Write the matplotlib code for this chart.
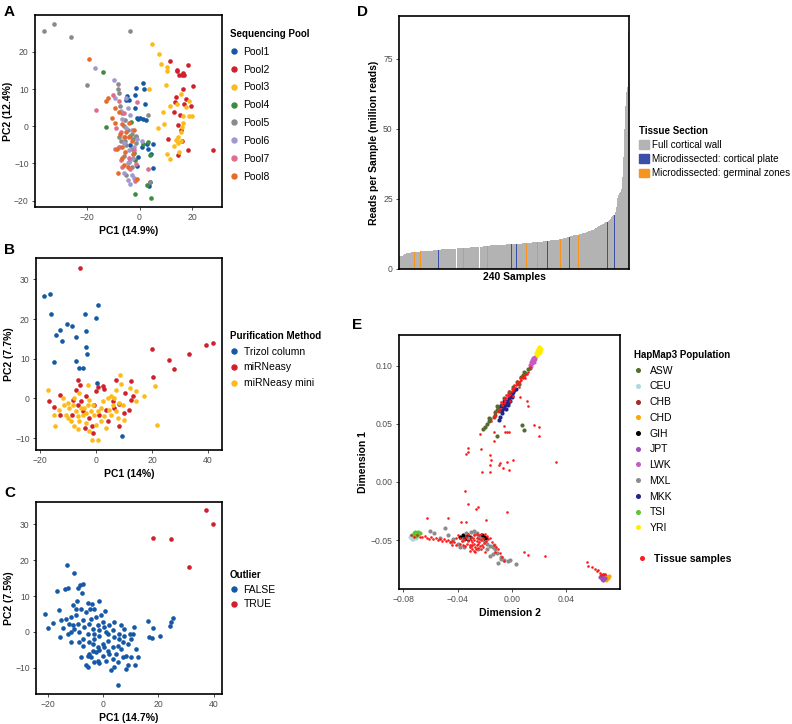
import matplotlib
matplotlib.use("Agg")
import matplotlib.pyplot as plt
from matplotlib.lines import Line2D
from matplotlib.patches import Patch

plt.rcParams['font.family'] = ['Liberation Sans', 'DejaVu Sans']

# ---------------- panel A: sequencing pools (PC1, PC2)
pool1 = [(1.5, 11.7), (-1.3, 10.4), (1.7, 9.9), (-1.7, 8.3), (-4.6, 8.2), (-3.9, 7.0), (-5.1, 7.0),
         (2.1, 6.0), (-1.9, 4.8), (-1.0, 2.3), (0.3, 2.1), (1.5, 1.9), (2.4, 1.8), (-0.4, 2.0),
         (5.1, -4.9), (3.4, -6.0), (2.8, -4.8), (4.3, -7.5), (5.1, -11.2), (3.7, -16.0), (3.9, -15.0),
         (-0.6, -8.3), (-1.0, -10.7), (-3.5, -5.0), (0.8, -5.5)]
pool2 = [(11.5, 17.6), (14.4, 15.1), (15.1, 13.9), (16.4, 14.4), (17.1, 13.9), (18.6, 16.4), (16.1, 13.7),
         (20.5, 10.8), (16.4, 9.9), (13.8, 7.9), (13.5, 6.4), (17.6, 7.4), (17.1, 6.1), (19.6, 5.5),
         (13.3, 3.7), (15.4, 3.1), (14.8, 0.3), (15.7, -1.1), (11.0, -3.3), (16.1, -4.0), (18.3, -6.5),
         (14.5, -7.8), (28.1, -6.3), (14.2, 14.8)]
pool3 = [(4.6, 22.0), (7.4, 19.5), (8.1, 16.8), (10.3, 15.8), (10.3, 14.9), (3.7, 9.9), (10.0, 11.2),
         (15.7, 8.6), (11.6, 5.4), (14.4, 6.0), (19.0, 6.8), (9.1, 3.7), (9.3, 0.5), (7.2, -0.6),
         (16.7, 2.8), (18.9, 2.7), (19.9, 2.8), (16.4, 1.0), (16.1, -0.2), (15.7, -1.5), (14.8, -2.9),
         (13.8, -3.8), (14.5, -4.4), (13.3, -5.4), (10.5, -7.5), (11.6, -8.7), (15.8, -4.0), (15.2, -6.9),
         (17.7, 5.1)]
pool4 = [(-13.9, 14.6), (-12.8, -0.2), (-3.2, 1.2), (-2.0, -7.1), (3.4, -4.2), (4.0, -7.6), (-1.7, -9.1),
         (2.7, -15.9), (-1.7, -18.1), (4.5, -19.4), (-1.5, -3.0), (-3.5, -2.5), (1.4, -4.7)]
pool5 = [(-36.3, 25.5), (-32.6, 27.4), (-26.2, 24.1), (-3.6, 25.5), (-20.1, 11.0), (-8.3, 11.4), (-8.3, 10.1),
         (3.4, 2.9), (4.0, -15.0), (-8.0, 9.0), (-7.5, 5.5), (-6.5, 3.5), (-5.5, 1.8), (-6.0, 0.0),
         (-4.5, -1.0), (-3.0, -2.0), (-1.5, -2.5), (-2.5, -3.5), (-5.0, -5.0), (-3.0, -6.0), (-1.5, -4.5),
         (-6.0, -8.0), (-4.0, -9.5), (-3.0, -11.0), (-5.0, -13.0), (-7.0, -4.0), (-8.0, -3.0), (-5.5, -4.0)]
pool6 = [(-17.0, 15.7), (-9.7, 12.5), (-9.5, 7.5), (-5.0, 7.5), (-4.5, 5.0), (-3.5, 3.0), (-6.5, 2.0),
         (-5.0, -0.5), (-3.0, -1.0), (-1.0, -3.5), (-2.0, -5.5), (-4.0, -6.5), (-6.0, -4.5), (-2.5, -8.5),
         (-3.5, -9.0), (-4.5, -10.0), (-3.0, -13.0), (-4.5, -14.5), (-2.0, -14.0), (-3.5, -15.5),
         (-6.0, -12.5), (1.0, -4.0), (-8.0, -5.5), (-7.0, 4.0)]
pool7 = [(-16.6, 4.3), (-10.2, 8.5), (-7.9, 6.7), (-0.8, 6.6), (-9.0, -0.5), (-7.0, -1.5), (-5.5, -3.0),
         (-8.0, -5.5), (-9.5, -6.0), (-4.0, -8.5), (-1.4, -10.2), (3.4, -11.4), (-1.9, -14.8), (-6.5, -11.0),
         (-3.5, -11.5), (-6.0, 3.5), (-2.0, -6.5), (-7.0, -9.0)]
pool8 = [(-19.1, 18.0), (-11.9, 7.6), (-12.8, 6.9), (-8.0, 3.9), (-10.5, 2.1), (-9.3, 0.9), (-6.1, -2.9),
         (-8.3, -12.6), (-6.1, -10.5), (-1.1, -14.2), (-5.0, -1.5), (-6.5, 0.5), (-4.0, -3.0), (-3.0, -4.0),
         (-6.5, -5.5), (-8.5, -6.0), (-5.5, -7.0), (-2.5, -7.5), (-4.0, 1.0), (-7.5, -2.0), (-2.0, -1.0),
         (-9.5, 5.0), (-6.5, -8.5), (-4.5, -11.0)]
pool_labels = ["Pool1", "Pool2", "Pool3", "Pool4", "Pool5", "Pool6", "Pool7", "Pool8"]
pool_colors = ["#1458A6", "#D0202E", "#FDBB1A", "#3D8B3D", "#8A8A8A", "#9E9AD0", "#DE6E8E", "#E56B2A"]

# ---------------- panel B: purification method
trizol = [(-18.6, 25.8), (-16.5, 26.2), (-16.2, 21.2), (-14.2, 16.0), (-12.7, 17.2), (-12.1, 14.5),
          (-10.4, 18.7), (-8.5, 18.2), (-7.1, 15.4), (-3.8, 21.4), (-3.7, 17.0), (-3.6, 13.0), (-3.1, 11.3),
          (0.0, 20.4), (0.7, 23.5), (-14.8, 9.2), (-7.0, 9.4), (-6.2, 7.7), (-4.8, 7.7), (0.4, 3.8), (9.4, -9.5)]
mirneasy = [(-5.8, 33.0), (19.9, 12.4), (26.1, 9.7), (27.7, 7.3), (33.2, 11.3), (39.4, 13.4), (41.8, 13.9),
            (20.5, 5.5), (-6.4, 4.7), (-5.8, 3.5), (-12.9, 0.9), (-16.7, -0.7), (-14.9, -2.2), (-12.7, -4.1),
            (7.1, 4.7), (12.5, 4.5), (10.5, 1.4), (13.1, 0.5), (12.5, -0.3), (10.1, -3.7), (11.7, -2.8),
            (8.1, -1.3), (0.6, 3.0), (2.4, 3.2), (3.0, 2.4), (0.0, 1.8), (-3.6, 0.5), (-6.5, -1.6),
            (-8.7, -4.1), (-4.8, -3.2), (-1.4, -7.0), (-3.8, -7.4), (-1.2, -8.7), (8.3, -7.0), (4.2, -5.8),
            (6.5, -2.4), (1.2, -4.1), (-2.4, -4.9), (3.6, -2.8), (-5.4, -0.7), (-8.3, -0.3), (6.2, -0.6),
            (-0.6, -1.6), (-7.1, 2.2)]
mirneasy_mini = [(-17.0, 2.0), (-14.9, -4.3), (-14.6, -7.0), (-2.7, 3.5), (8.7, 5.8), (8.9, 3.6), (14.3, 1.8),
                 (17.3, 0.5), (21.2, 3.1), (21.8, -6.6), (-1.5, -10.6), (0.7, -10.4), (10.1, -5.5),
                 (-11.9, 0.1), (-10.1, -1.2), (-9.5, -2.4), (-8.3, -1.6), (-7.1, -3.2), (-6.5, -4.5),
                 (-6.0, -5.8), (-7.7, -7.0), (-8.9, -5.8), (-10.1, -4.9), (-4.8, -4.1), (-4.2, -2.4),
                 (-3.0, -1.6), (-2.4, -0.3), (-1.8, -3.2), (-3.6, -6.2), (-0.6, -4.1), (0.6, -3.2),
                 (1.8, -2.4), (2.4, -0.7), (4.2, 0.1), (5.4, 0.5), (6.5, 0.1), (6.0, -1.6), (7.1, -3.2),
                 (5.4, -4.1), (3.0, -4.5), (1.8, -5.8), (0.0, -6.6), (3.6, -7.4), (-2.4, -8.3), (-6.5, -7.6),
                 (-11.3, -1.6), (-13.1, -2.8), (-10.7, -4.1), (8.3, -1.1), (9.5, -1.6), (7.1, 2.2),
                 (7.7, -4.9), (4.8, -2.8), (-1.2, -1.6), (-5.4, -2.4), (-3.6, -3.6), (-7.7, 0.1),
                 (-6.0, 1.4), (12.3, 2.6), (14.3, -0.6)]
method_labels = ["Trizol column", "miRNeasy", "miRNeasy mini"]
method_colors = ["#1458A6", "#D0202E", "#FDBB1A"]

# ---------------- panel C: outliers
outlier_false = [(-13.0, 18.6), (-10.6, 16.4), (-16.7, 11.4), (-13.6, 11.9), (-12.8, 12.3), (-9.2, 12.2),
                 (-8.2, 13.0), (-7.3, 13.4), (-7.6, 10.9), (-9.5, 8.5), (-1.3, 8.5), (0.7, 5.9), (-4.1, 7.9),
                 (-5.5, 8.1), (-21.0, 4.9), (-19.8, 1.1), (-18.2, 2.6), (-15.8, 6.2), (-15.2, 3.2),
                 (-15.5, -1.3), (-11.0, 7.4), (-11.6, 4.1), (-12.2, 2.3), (-11.6, -2.8), (-12.5, -0.5),
                 (-8.8, 0.1), (-7.3, 3.2), (-9.8, 4.6), (-6.1, 5.5), (-3.1, 6.5), (-4.3, 3.7), (-2.5, 4.1),
                 (-0.7, 4.6), (-0.1, 2.7), (-1.9, 1.8), (-3.7, 0.9), (-5.5, -0.5), (-7.3, -1.9), (-8.6, -2.8),
                 (-4.9, -2.8), (-3.1, -1.9), (-1.3, -1.0), (1.1, 0.0), (2.3, 1.8), (4.1, 2.7), (6.5, 1.8),
                 (7.7, 0.9), (5.9, -0.5), (4.1, -1.4), (1.7, -2.4), (-0.1, -3.3), (-1.9, -4.2), (-3.7, -5.2),
                 (-4.9, -6.1), (-7.3, -3.8), (-5.5, -6.6), (-8.0, -7.0), (-6.1, -9.3), (-5.5, -9.8),
                 (-1.9, -8.0), (-0.1, -6.6), (1.7, -5.2), (3.5, -4.2), (5.3, -3.8), (7.1, -2.8), (8.9, -3.3),
                 (10.1, -1.9), (10.7, -0.5), (11.3, 1.3), (9.9, -0.5), (6.5, -4.7), (4.7, -6.1), (3.5, -7.5),
                 (5.3, -8.4), (4.1, -9.8), (2.9, -10.7), (7.1, -7.0), (8.3, -6.6), (8.9, -9.3), (8.3, -10.3),
                 (11.9, -4.7), (12.8, -7.0), (11.7, -9.3), (10.1, -7.0), (5.3, -14.7), (16.4, 3.1),
                 (18.0, 1.1), (16.8, -1.4), (17.7, -1.6), (20.6, -1.1), (24.3, 1.6), (24.5, 2.7), (25.2, 3.9),
                 (-9.2, 2.3), (-10.4, 0.9), (-11.6, 0.0), (-11.0, 1.8), (-6.7, 1.3), (-4.9, 2.3), (-3.1, -0.5),
                 (-1.3, 0.4), (0.5, 1.3), (1.7, -0.5), (-3.7, -3.3), (-1.3, -5.0), (0.5, -4.2), (-2.5, -5.5),
                 (-4.3, -6.9), (-3.1, -8.3), (-1.3, -8.8), (1.1, -8.0), (2.3, -6.1), (5.9, -2.0), (7.7, -1.0),
                 (3.5, 0.4), (-13.4, 3.7), (-14.6, 1.1), (-9.8, 6.5), (-8.0, 6.5), (-4.6, 6.5)]
outlier_true = [(18.0, 26.1), (24.6, 25.9), (37.2, 33.9), (39.9, 30.1), (31.2, 18.0)]

# ---------------- panel D: reads per sample, sorted
reads = [4.5, 4.6, 4.7, 4.8, 4.9,
         5.3, 5.5, 5.6, 5.7, 5.7, 5.8, 5.8, 5.8, 5.9, 5.9, 5.9,
         6.0, 6.0, 6.1, 6.1, 6.2, 6.2, 6.3, 6.3, 6.3, 6.4, 6.4, 6.4, 6.5, 6.5, 6.5, 6.5, 6.6, 6.6, 6.6,
         6.7, 6.7, 6.7, 6.8, 6.8, 6.8,
         6.9, 6.9, 6.9, 7.0, 7.0, 7.0, 7.0, 7.1, 7.1, 7.1, 7.1, 7.2, 7.2, 7.2, 7.2, 7.3, 7.3, 7.3, 7.3,
         7.4, 7.4, 7.4, 7.4, 7.4, 7.5, 7.5,
         7.5, 7.5, 7.6, 7.6, 7.6, 7.6, 7.6, 7.7, 7.7, 7.7, 7.7, 7.7, 7.8, 7.8, 7.8, 7.8, 7.8, 7.9, 7.9,
         8.0, 8.0, 8.1, 8.1, 8.2, 8.2,
         8.3, 8.3, 8.3, 8.4, 8.4, 8.4, 8.4, 8.5, 8.5, 8.5, 8.5, 8.6, 8.6, 8.6, 8.6, 8.6, 8.7, 8.7, 8.7,
         8.7, 8.8, 8.8, 8.8, 8.8, 8.9,
         8.9, 8.9, 8.9, 9.0, 9.0, 9.0, 9.0, 9.1, 9.1, 9.1, 9.1, 9.2, 9.2, 9.2, 9.2, 9.3,
         9.3, 9.3, 9.3, 9.4, 9.4, 9.4, 9.5, 9.5, 9.5, 9.6, 9.6, 9.7, 9.7, 9.7, 9.8, 9.8, 9.8, 9.9, 9.9,
         9.9, 10.0,
         10.0, 10.0, 10.1, 10.1, 10.2, 10.2, 10.2, 10.3, 10.3, 10.4, 10.4, 10.5, 10.5, 10.6,
         10.6, 10.7, 10.8, 10.9, 11.0, 11.1, 11.2, 11.3, 11.4, 11.5, 11.6, 11.7, 11.8, 11.9, 12.0, 12.0,
         12.1, 12.2, 12.3,
         12.3, 12.4, 12.5, 12.6, 12.7, 12.8, 12.9, 13.0, 13.2, 13.3, 13.4, 13.5, 13.6, 13.8, 13.9,
         14.0, 14.2, 14.4, 14.6, 14.8, 15.0, 15.2, 15.4, 15.6, 15.8, 16.0, 16.2, 16.4, 16.6, 16.8,
         16.9, 17.2, 17.6, 18.0, 18.4, 18.8, 19.1, 19.4, 20.5,
         22.0, 24.0, 25.5, 26.5, 27.0, 27.5, 28.5, 33.0, 40.0, 50.0, 58.0, 63.0, 65.0, 85.0]
cortical_plate_idx = [41, 84, 117, 122, 154, 177, 217, 224]
germinal_zone_idx = [16, 22, 67, 92, 133, 144, 168, 187]
tissue_labels = ["Full cortical wall", "Microdissected: cortical plate", "Microdissected: germinal zones"]
tissue_colors = ["#B3B3B3", "#3B4FA8", "#F7941D"]

# ---------------- panel E: MDS with HapMap3
asw = [(-0.0210, 0.0455), (-0.0195, 0.0470), (-0.0180, 0.0500), (-0.0170, 0.0520), (-0.0169, 0.0549),
       (-0.0160, 0.0540), (-0.0120, 0.0580), (-0.0110, 0.0620), (-0.0108, 0.0649), (-0.0100, 0.0640),
       (-0.0125, 0.0600), (-0.0095, 0.0610), (-0.0080, 0.0660), (-0.0060, 0.0720), (-0.0020, 0.0770),
       (0.0010, 0.0820), (0.0040, 0.0860), (0.0070, 0.0900), (0.0085, 0.0920), (0.0088, 0.0949),
       (0.0100, 0.0940), (0.0120, 0.0970), (0.0137, 0.0983), (-0.0108, 0.0397), (0.0076, 0.0486),
       (0.0088, 0.0443), (0.0050, 0.0840), (-0.0130, 0.0560)]
ceu = [(-0.0740, -0.0470), (-0.0730, -0.0480), (-0.0720, -0.0485), (-0.0745, -0.0460), (-0.0735, -0.0490),
       (-0.0710, -0.0480), (-0.0750, -0.0475), (-0.0725, -0.0495)]
chb = [(0.0670, -0.0810), (0.0680, -0.0815), (0.0675, -0.0800), (0.0665, -0.0820), (0.0685, -0.0805),
       (0.0660, -0.0805)]
chd = [(0.0690, -0.0820), (0.0700, -0.0830), (0.0705, -0.0815), (0.0695, -0.0840), (0.0710, -0.0825),
       (0.0685, -0.0835), (0.0715, -0.0810)]
gih = [(-0.0380, -0.0470), (-0.0360, -0.0460), (-0.0340, -0.0480), (-0.0330, -0.0455), (-0.0310, -0.0470),
       (-0.0240, -0.0470), (-0.0220, -0.0460), (-0.0205, -0.0475), (-0.0190, -0.0480), (-0.0350, -0.0490),
       (-0.0215, -0.0490), (-0.0320, -0.0490)]
jpt = [(0.0660, -0.0820), (0.0670, -0.0830), (0.0680, -0.0825), (0.0675, -0.0840), (0.0665, -0.0835),
       (0.0690, -0.0830), (0.0655, -0.0815)]
lwk = [(0.0135, 0.1010), (0.0145, 0.1030), (0.0155, 0.1050), (0.0165, 0.1070), (0.0170, 0.1060),
       (0.0160, 0.1040), (0.0150, 0.1020), (0.0140, 0.1000), (0.0175, 0.1075), (0.0160, 0.1065),
       (0.0150, 0.1045), (0.0165, 0.1030)]
mxl = [(-0.0600, -0.0420), (-0.0575, -0.0440), (-0.0490, -0.0395), (-0.0470, -0.0460), (-0.0430, -0.0490),
       (-0.0400, -0.0530), (-0.0385, -0.0560), (-0.0360, -0.0500), (-0.0340, -0.0440), (-0.0320, -0.0480),
       (-0.0300, -0.0430), (-0.0280, -0.0420), (-0.0260, -0.0440), (-0.0240, -0.0470), (-0.0220, -0.0490),
       (-0.0200, -0.0520), (-0.0180, -0.0530), (-0.0160, -0.0550), (-0.0140, -0.0560), (-0.0120, -0.0580),
       (-0.0110, -0.0610), (-0.0140, -0.0620), (-0.0160, -0.0640), (-0.0080, -0.0650), (-0.0060, -0.0670),
       (-0.0030, -0.0680), (-0.0010, -0.0670), (0.0030, -0.0710), (-0.0100, -0.0700), (-0.0080, -0.0660),
       (-0.0250, -0.0580), (-0.0300, -0.0550), (-0.0350, -0.0560), (-0.0450, -0.0520), (-0.0530, -0.0480),
       (-0.0180, -0.0580), (-0.0130, -0.0540), (-0.0270, -0.0450)]
mkk = [(-0.0095, 0.0530), (-0.0085, 0.0560), (-0.0075, 0.0590), (-0.0070, 0.0620), (-0.0060, 0.0640),
       (-0.0050, 0.0660), (-0.0045, 0.0690), (-0.0035, 0.0700), (-0.0030, 0.0680), (-0.0020, 0.0720),
       (-0.0010, 0.0740), (0.0000, 0.0760), (0.0010, 0.0770), (0.0020, 0.0790), (-0.0060, 0.0700),
       (-0.0080, 0.0650), (-0.0040, 0.0630), (-0.0015, 0.0700), (0.0005, 0.0730), (-0.0055, 0.0680),
       (-0.0025, 0.0660), (0.0030, 0.0800)]
tsi = [(-0.0720, -0.0440), (-0.0710, -0.0450), (-0.0700, -0.0440), (-0.0690, -0.0445), (-0.0715, -0.0430),
       (-0.0700, -0.0455), (-0.0680, -0.0440), (-0.0725, -0.0455), (-0.0695, -0.0430), (-0.0705, -0.0465)]
yri = [(0.0185, 0.1095), (0.0190, 0.1110), (0.0195, 0.1125), (0.0200, 0.1140), (0.0205, 0.1155),
       (0.0210, 0.1130), (0.0200, 0.1110), (0.0190, 0.1130), (0.0210, 0.1150), (0.0195, 0.1145),
       (0.0205, 0.1120), (0.0180, 0.1105), (0.0200, 0.1160), (0.0215, 0.1140)]
tissue_samples = [
    # upper arm
    (-0.0150, 0.0520), (-0.0130, 0.0560), (-0.0120, 0.0590), (-0.0100, 0.0610), (-0.0090, 0.0630),
    (-0.0070, 0.0660), (-0.0060, 0.0680), (-0.0050, 0.0700), (-0.0040, 0.0720), (-0.0030, 0.0740),
    (-0.0020, 0.0750), (-0.0010, 0.0760), (0.0000, 0.0780), (0.0010, 0.0790), (0.0020, 0.0810),
    (0.0030, 0.0830), (0.0040, 0.0840), (0.0050, 0.0860), (0.0060, 0.0870), (0.0070, 0.0880),
    (0.0080, 0.0890), (0.0090, 0.0900), (0.0080, 0.0910), (0.0060, 0.0890), (0.0040, 0.0870),
    (0.0020, 0.0830), (0.0000, 0.0800), (-0.0020, 0.0780), (-0.0040, 0.0750), (-0.0060, 0.0710),
    (-0.0080, 0.0690), (-0.0030, 0.0760), (0.0010, 0.0740), (-0.0010, 0.0700), (0.0050, 0.0820),
    (0.0100, 0.0920), (0.0110, 0.0930), (0.0120, 0.0950), (0.0135, 0.0990), (0.0100, 0.0890),
    # scattered
    (0.0059, 0.0734), (0.0113, 0.0700), (0.0120, 0.0649), (-0.0120, 0.0569), (-0.0231, 0.0409),
    (-0.0133, 0.0429), (-0.0054, 0.0483), (-0.0052, 0.0431), (-0.0034, 0.0426), (-0.0017, 0.0426),
    (0.0162, 0.0486), (0.0204, 0.0474), (0.0201, 0.0391), (-0.0133, 0.0349), (-0.0324, 0.0294),
    (-0.0334, 0.0243), (-0.0324, 0.0254), (-0.0226, 0.0283), (-0.0162, 0.0229), (-0.0152, 0.0191),
    (-0.0164, 0.0146), (-0.0096, 0.0143), (-0.0083, 0.0163), (-0.0034, 0.0169), (0.0010, 0.0186),
    (-0.0064, 0.0120), (-0.0020, 0.0103), (-0.0218, 0.0086), (-0.0162, 0.0086), (0.0326, 0.0174),
    (-0.0346, -0.0080), (-0.0324, -0.0186), (-0.0267, -0.0229), (-0.0248, -0.0217), (-0.0034, -0.0257),
    (-0.0623, -0.0309), (-0.0471, -0.0314), (-0.0373, -0.0346), (-0.0341, -0.0343), (-0.0187, -0.0331),
    (0.0088, -0.0600), (0.0120, -0.0626), (0.0248, -0.0640), (0.0555, -0.0686), (0.0562, -0.0723),
    (0.0591, -0.0731), (0.0616, -0.0751),
    # lower arm
    (-0.0745, -0.0455), (-0.0720, -0.0470), (-0.0700, -0.0460), (-0.0680, -0.0470), (-0.0660, -0.0475),
    (-0.0640, -0.0465), (-0.0625, -0.0480), (-0.0610, -0.0490), (-0.0595, -0.0475), (-0.0580, -0.0495),
    (-0.0560, -0.0485), (-0.0545, -0.0500), (-0.0530, -0.0490), (-0.0515, -0.0505), (-0.0500, -0.0495),
    (-0.0485, -0.0510), (-0.0470, -0.0500), (-0.0455, -0.0515), (-0.0440, -0.0505), (-0.0425, -0.0520),
    (-0.0410, -0.0480), (-0.0395, -0.0460), (-0.0380, -0.0530), (-0.0365, -0.0510), (-0.0350, -0.0490),
    (-0.0335, -0.0470), (-0.0320, -0.0450), (-0.0305, -0.0540), (-0.0290, -0.0520), (-0.0275, -0.0500),
    (-0.0260, -0.0480), (-0.0245, -0.0460), (-0.0300, -0.0500), (-0.0285, -0.0480), (-0.0270, -0.0560),
    (-0.0255, -0.0540), (-0.0240, -0.0520), (-0.0225, -0.0500), (-0.0210, -0.0480), (-0.0310, -0.0560),
    (-0.0295, -0.0575), (-0.0280, -0.0590), (-0.0265, -0.0580), (-0.0250, -0.0570), (-0.0235, -0.0555),
    (-0.0220, -0.0540), (-0.0205, -0.0525), (-0.0190, -0.0510), (-0.0175, -0.0495), (-0.0160, -0.0480),
    (-0.0145, -0.0520), (-0.0130, -0.0545), (-0.0115, -0.0560), (-0.0100, -0.0575), (-0.0120, -0.0600),
    (-0.0085, -0.0610), (-0.0070, -0.0650), (-0.0060, -0.0680), (-0.0330, -0.0530), (-0.0345, -0.0550),
    (-0.0360, -0.0540), (-0.0320, -0.0510), (-0.0280, -0.0530), (-0.0260, -0.0510), (-0.0240, -0.0490),
    (-0.0300, -0.0470), (-0.0280, -0.0460), (-0.0260, -0.0450), (-0.0230, -0.0450), (-0.0195, -0.0450),
    (-0.0180, -0.0465), (-0.0410, -0.0540), (-0.0440, -0.0545), (-0.0380, -0.0480), (-0.0290, -0.0545),
    (-0.0250, -0.0530), (-0.0230, -0.0580), (-0.0210, -0.0560), (-0.0200, -0.0600), (-0.0270, -0.0600),
    (-0.0310, -0.0590),
    # east asian cluster
    (0.0630, -0.0770), (0.0650, -0.0780), (0.0670, -0.0790), (0.0660, -0.0800), (0.0690, -0.0790),
    (0.0640, -0.0760)]
pop_labels = ["ASW", "CEU", "CHB", "CHD", "GIH", "JPT", "LWK", "MXL", "MKK", "TSI", "YRI"]
pop_colors = ["#556B2F", "#ADD8E6", "#A52A2A", "#FFA500", "#000000", "#9B4FB8",
              "#C65BC0", "#8C8C8C", "#23238E", "#5DC535", "#FFEE00"]

W, H = 792, 724
fig = plt.figure(figsize=(W / 100, H / 100), dpi=100)


def box(l, t, r, b):
    return [l / W, 1 - b / H, (r - l) / W, (b - t) / H]


def style(ax):
    for s in ax.spines.values():
        s.set_linewidth(1.2)
        s.set_color("black")
    ax.tick_params(length=2.5, width=0.6, color="#333333", labelsize=6.2,
                   labelcolor="#4D4D4D", pad=2)


def legend_at(x, y, handles, title, **kw):
    opts = dict(loc="upper left", bbox_to_anchor=(x / W, 1 - y / H), frameon=False,
                fontsize=7.5, title_fontproperties={"weight": "bold", "size": 7},
                alignment="left", borderpad=0, borderaxespad=0, handlelength=0.8,
                handletextpad=0.5, labelspacing=0.75)
    opts.update(kw)
    return fig.legend(handles=handles, title=title, **opts)


def dots(colors, labels, ms=3.6):
    return [Line2D([], [], marker="o", ls="", color=c, markersize=ms, label=l)
            for c, l in zip(colors, labels)]


def xs(pts):
    return [p[0] for p in pts]


def ys(pts):
    return [p[1] for p in pts]


# ---- A
axA = fig.add_axes(box(35, 15, 222, 207))
for pts, c in zip([pool1, pool2, pool3, pool4, pool5, pool6, pool7, pool8], pool_colors):
    axA.scatter(xs(pts), ys(pts), s=11, color=c, linewidths=0)
axA.set_xlim(-39.8, 31.4)
axA.set_ylim(-21.7, 29.9)
axA.set_xticks([-20, 0, 20])
axA.set_yticks([-20, -10, 0, 10, 20])
axA.set_xlabel("PC1 (14.9%)", fontsize=7.5, fontweight="bold", labelpad=3)
axA.set_ylabel("PC2 (12.4%)", fontsize=7.5, fontweight="bold", labelpad=1)
style(axA)
legend_at(230, 29, dots(pool_colors, pool_labels), "Sequencing Pool")

# ---- B
axB = fig.add_axes(box(36, 258, 222, 450))
for pts, c in zip([trizol, mirneasy, mirneasy_mini], method_colors):
    axB.scatter(xs(pts), ys(pts), s=11, color=c, linewidths=0)
axB.set_xlim(-21.4, 45)
axB.set_ylim(-13, 35.4)
axB.set_xticks([-20, 0, 20, 40])
axB.set_yticks([-10, 0, 10, 20, 30])
axB.set_xlabel("PC1 (14%)", fontsize=7.5, fontweight="bold", labelpad=3)
axB.set_ylabel("PC2 (7.7%)", fontsize=7.5, fontweight="bold", labelpad=1)
style(axB)
legend_at(230, 331, dots(method_colors, method_labels), "Purification Method", labelspacing=0.55)

# ---- C
axC = fig.add_axes(box(36, 502, 222, 694))
axC.scatter(xs(outlier_false), ys(outlier_false), s=11, color=method_colors[0], linewidths=0)
axC.scatter(xs(outlier_true), ys(outlier_true), s=11, color=method_colors[1], linewidths=0)
axC.set_xlim(-24.2, 43)
axC.set_ylim(-17.3, 36.2)
axC.set_xticks([-20, 0, 20, 40])
axC.set_yticks([-10, 0, 10, 20, 30])
axC.set_xlabel("PC1 (14.7%)", fontsize=7.5, fontweight="bold", labelpad=3)
axC.set_ylabel("PC2 (7.5%)", fontsize=7.5, fontweight="bold", labelpad=1)
style(axC)
legend_at(230, 570, dots(method_colors[:2], ["FALSE", "TRUE"]), "Outlier", labelspacing=0.45)

# ---- D
axD = fig.add_axes(box(399, 16, 629, 269))
bar_colors = []
for i in range(len(reads)):
    if i in cortical_plate_idx:
        bar_colors.append(tissue_colors[1])
    elif i in germinal_zone_idx:
        bar_colors.append(tissue_colors[2])
    else:
        bar_colors.append(tissue_colors[0])
axD.bar(range(len(reads)), reads, width=1.0, color=bar_colors, linewidth=0)
axD.set_xlim(-0.5, len(reads) - 0.5)
axD.set_ylim(0, 90.3)
axD.set_xticks([])
axD.set_yticks([0, 25, 50, 75])
axD.set_xlabel("240 Samples", fontsize=7.5, fontweight="bold", labelpad=2)
axD.set_ylabel("Reads per Sample (million reads)", fontsize=7.5, fontweight="bold", labelpad=3)
style(axD)
legend_at(639, 126, [Patch(color=c, label=l) for c, l in zip(tissue_colors, tissue_labels)],
          "Tissue Section", fontsize=7.1, handlelength=1.0, handleheight=1.0,
          handletextpad=0.35, labelspacing=0.42)

# ---- E
axE = fig.add_axes(box(399, 335, 620, 589))
for pts, c in zip([asw, ceu, chb, chd, gih, jpt, lwk, mxl, mkk, tsi, yri], pop_colors):
    axE.scatter(xs(pts), ys(pts), s=9, color=c, linewidths=0)
axE.scatter(xs(tissue_samples), ys(tissue_samples), s=3.5, color="#FF1A1A", linewidths=0)
axE.set_xlim(-0.0832, 0.0799)
axE.set_ylim(-0.0921, 0.1264)
axE.set_xticks([-0.08, -0.04, 0.0, 0.04])
axE.set_xticklabels(["\u22120.08", "\u22120.04", "0.00", "0.04"])
axE.set_yticks([-0.05, 0.0, 0.05, 0.10])
axE.set_yticklabels(["\u22120.05", "0.00", "0.05", "0.10"])
axE.set_xlabel("Dimension 2", fontsize=7.5, fontweight="bold", labelpad=3)
axE.set_ylabel("Dimension 1", fontsize=7.5, fontweight="bold", labelpad=2)
style(axE)
legend_at(634, 350, dots(pop_colors, pop_labels, ms=2.6), "HapMap3 Population",
          labelspacing=0.55, handletextpad=0.7)
legend_at(638, 554, dots(["#FF1A1A"], ["Tissue samples"], ms=2.6), None,
          handletextpad=0.7, prop={"weight": "bold", "size": 7.5})

# panel letters
for lab, x, y in [("A", 4, 12), ("B", 4, 250), ("C", 4, 493), ("D", 357, 12), ("E", 352, 325)]:
    fig.text(x / W, 1 - y / H, lab, fontsize=11, fontweight="bold", va="center", ha="left")

fig.savefig("out.png", dpi=100)
